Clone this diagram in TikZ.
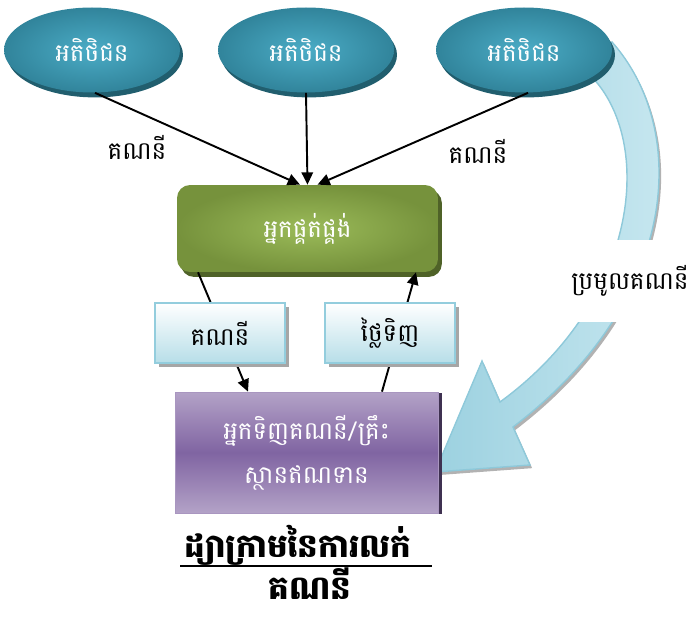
\documentclass[tikz,border=0pt]{standalone}
\usepackage{fontspec}
\usepackage{tikz}
\usetikzlibrary{shapes.geometric,arrows.meta,shadows}
\newfontfamily\khmer[Script=Khmer]{Battambang}

\definecolor{tealin}{HTML}{4BACC6}
\definecolor{tealout}{HTML}{31849B}
\definecolor{tealdark}{HTML}{215E6E}
\definecolor{greenin}{HTML}{9BBB59}
\definecolor{greenout}{HTML}{76923C}
\definecolor{greendark}{HTML}{4F6228}
\definecolor{paleblue}{HTML}{B7DEE8}
\definecolor{paleedge}{HTML}{93CDDD}
\definecolor{purplelight}{HTML}{B3A2C7}
\definecolor{purplemid}{HTML}{8064A2}
\definecolor{purpledark}{HTML}{3F3151}
\definecolor{arrowA}{HTML}{9CD1E0}
\definecolor{arrowB}{HTML}{CBE9F1}
\definecolor{arrowedge}{HTML}{8EC9DA}

\tikzset{
  client/.style={ellipse, minimum width=3.52cm, minimum height=1.70cm,
    inner color=tealin, outer color=tealout, text=white,
    font=\khmer\fontsize{14}{16}\selectfont,
    drop shadow={shadow xshift=1.7pt, shadow yshift=-2.8pt, fill=tealdark, opacity=1}},
  supplier/.style={rounded corners=0.26cm, minimum width=5.22cm, minimum height=1.74cm,
    inner color=greenin, outer color=greenout, text=white,
    font=\khmer\fontsize{14}{16}\selectfont,
    drop shadow={shadow xshift=2.2pt, shadow yshift=-2.8pt, fill=greendark, opacity=1}},
  tagbox/.style={minimum width=2.6cm, minimum height=1.2cm, draw=paleedge, line width=1.2pt,
    top color=white, bottom color=paleblue, font=\khmer\fontsize{14}{16}\selectfont,
    drop shadow={shadow xshift=2.2pt, shadow yshift=-2.2pt, fill=gray!70, opacity=1}},
  buyer/.style={minimum width=5.26cm, minimum height=2.42cm, draw=purplelight!80!purplemid,
    top color=purplelight, bottom color=purplelight, middle color=purplemid, text=white,
    align=center, font=\khmer\fontsize{14}{25}\selectfont,
    drop shadow={shadow xshift=2.3pt, shadow yshift=-0.6pt, fill=purpledark, opacity=1}},
  flow/.style={line width=1.1pt, -{Triangle[length=7pt,width=6.5pt]}},
  lbl/.style={font=\khmer\fontsize{14}{16}\selectfont},
  heading/.style={font=\khmer\bfseries\fontsize{18.5}{22}\selectfont, inner sep=0pt}
}

\begin{document}
\begin{tikzpicture}[x=0.02cm,y=-0.02cm]
\useasboundingbox (0,0) rectangle (699,617);

% big curved arrow
\filldraw[draw=arrowedge, line width=0.8pt, left color=arrowA, right color=arrowB,
  drop shadow={shadow xshift=1.2pt, shadow yshift=-1.8pt, fill=gray!60, opacity=1}]
  (612,42) .. controls (690,130) and (680,300) .. (513,427) -- (530,465) -- (435,472)
  -- (482,361) -- (500,402) .. controls (640,300) and (655,140) .. (590,75) -- cycle;
\node[lbl, fill=white, minimum height=1.66cm, inner xsep=1pt] (collect) at (630,281) {ប្រមូលគណនី};

% customers
\node[client] (c1) at (92,50) {អតិថិជន};
\node[client] (c2) at (306,50) {អតិថិជន};
\node[client] (c3) at (524,50) {អតិថិជន};

\node[supplier] (sup) at (307.5,228.5) {អ្នកផ្គត់ផ្គង់};
\node[buyer] (buy) at (306.5,452.5) {អ្នកទិញគណនី/គ្រឹះ\\ស្ថានឥណទាន};

% connectors
\draw[flow] ([xshift=0.06cm]c1.south) -- ([xshift=-0.15cm]sup.north);
\draw[flow] (c2.south) -- (sup.north);
\draw[flow] ([xshift=0.08cm]c3.south) -- ([xshift=0.2cm]sup.north);
\draw[flow] ([xshift=-2.19cm]sup.south) -- ([xshift=-1.17cm]buy.north);
\draw[flow] ([xshift=1.51cm]buy.north) -- ([xshift=2.17cm]sup.south);

\node[tagbox] (acc) at (220,333) {គណនី};
\node[tagbox] (price) at (390,333) {ថ្លៃទិញ};

\node[lbl] (l1) at (137,147) {គណនី};
\node[lbl] (l2) at (478,151) {គណនី};

% title
\node[heading] (title) at (298,545) {ដ្យាក្រាមនៃការលក់};
\node[heading] (title2) at (310,584) {គណនី};
\draw[line width=1pt] (180,566) -- (432,566);
\end{tikzpicture}
\end{document}
